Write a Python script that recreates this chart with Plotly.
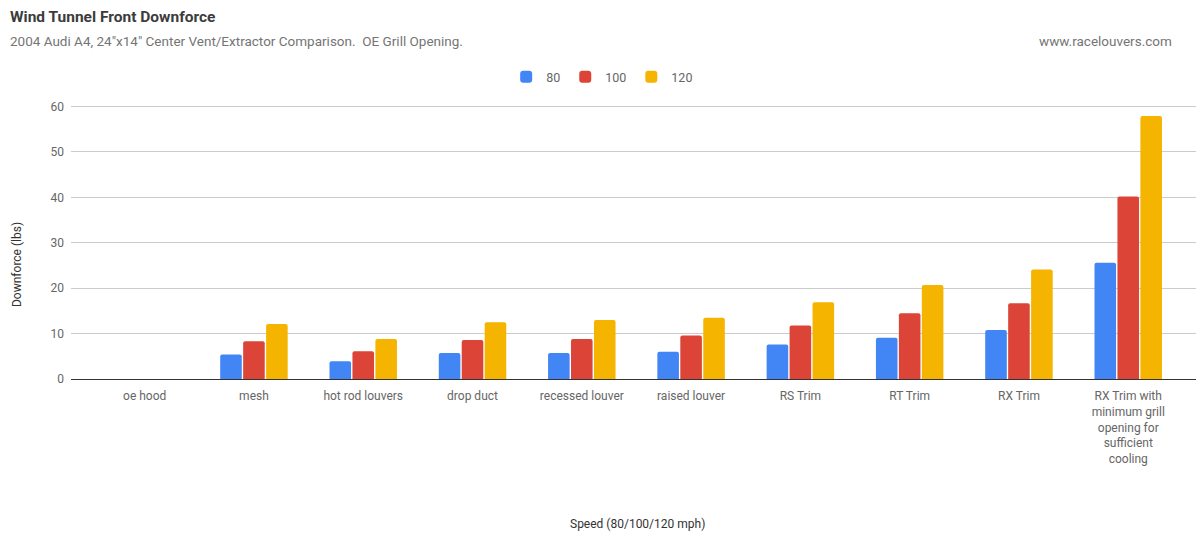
import plotly.graph_objects as go

categories = ["oe hood", "mesh", "hot rod louvers", "drop duct", "recessed louver",
              "raised louver", "RS Trim", "RT Trim", "RX Trim",
              "RX Trim with<br>minimum grill<br>opening for<br>sufficient<br>cooling"]
series_names = ["80", "100", "120"]
v80 = [0, 5.4, 3.9, 5.7, 5.7, 6.0, 7.6, 9.1, 10.8, 25.6]
v100 = [0, 8.3, 6.1, 8.6, 8.8, 9.6, 11.8, 14.5, 16.7, 40.2]
v120 = [0, 12.1, 8.8, 12.5, 13.0, 13.5, 16.9, 20.7, 24.1, 57.9]
colors = ["#4285F4", "#DB4437", "#F4B400"]
y_ticks = [0, 10, 20, 30, 40, 50, 60]

FONT = "Roboto"
L, R, T, B = 71, 0, 102, 156
W, H = 1196, 535
PW, PH = W - L - R, H - T - B


def px_x(px):
    return (px - L) / PW


def px_y(py):
    return (H - B - py) / PH


fig = go.Figure()
for name, vals, c in zip(series_names, [v80, v100, v120], colors):
    fig.add_trace(go.Bar(x=list(range(len(categories))), y=vals, name=name,
                         marker=dict(color=c, line=dict(width=0)),
                         hoverinfo="y"))

fig.update_layout(
    width=W, height=H,
    margin=dict(l=L, r=R, t=T, b=B),
    paper_bgcolor="white", plot_bgcolor="white",
    barmode="group", bargap=0.37, bargroupgap=0.06, barcornerradius=2,
    font=dict(family=FONT, size=12, color="#666666"),
    showlegend=True,
    legend=dict(orientation="h", xref="container", yref="container",
                x=0.5035, xanchor="center", y=1 - 77 / 535, yanchor="middle",
                font=dict(size=12.5, color="#666666"), itemwidth=30,
                traceorder="normal"),
    xaxis=dict(range=[-0.674, 9.62], tickmode="array",
               tickvals=list(range(len(categories))), ticktext=categories,
               showgrid=False, showline=True, linecolor="#333333", linewidth=1,
               ticks="", zeroline=False, tickfont=dict(size=12, color="#666666"),
               ticklabelstandoff=6, fixedrange=True),
    yaxis=dict(range=[0, 61], tickmode="array", tickvals=y_ticks,
               showgrid=True, gridcolor="#cccccc", gridwidth=1, zeroline=False,
               showline=False, ticks="", tickfont=dict(size=12, color="#666666"),
               ticklabelstandoff=6, fixedrange=True),
)
fig.add_annotation(text="Downforce (lbs)", xref="paper", yref="paper", x=px_x(17), y=px_y(265),
                   textangle=-90, showarrow=False, xanchor="center", yanchor="middle",
                   font=dict(size=12, color="#333333"))
fig.add_annotation(text="Speed (80/100/120 mph)", xref="paper", yref="paper",
                   x=px_x(637), y=px_y(524), showarrow=False,
                   xanchor="center", yanchor="middle",
                   font=dict(size=12, color="#333333"))
fig.add_annotation(text="<b>Wind Tunnel Front Downforce</b>", xref="paper", yref="paper",
                   x=px_x(8), y=px_y(17), showarrow=False, xanchor="left", yanchor="middle",
                   font=dict(size=15.5, color="#3c3c3c"))
fig.add_annotation(text="2004 Audi A4, 24\"x14\" Center Vent/Extractor Comparison.  OE Grill Opening.",
                   xref="paper", yref="paper",
                   x=px_x(8), y=px_y(41), showarrow=False, xanchor="left", yanchor="middle",
                   font=dict(size=13.5, color="#757575"))
fig.add_annotation(text="www.racelouvers.com", xref="paper", yref="paper",
                   x=px_x(1174), y=px_y(41), showarrow=False, xanchor="right", yanchor="middle",
                   font=dict(size=13.5, color="#757575"))

fig.write_html("out.html")
